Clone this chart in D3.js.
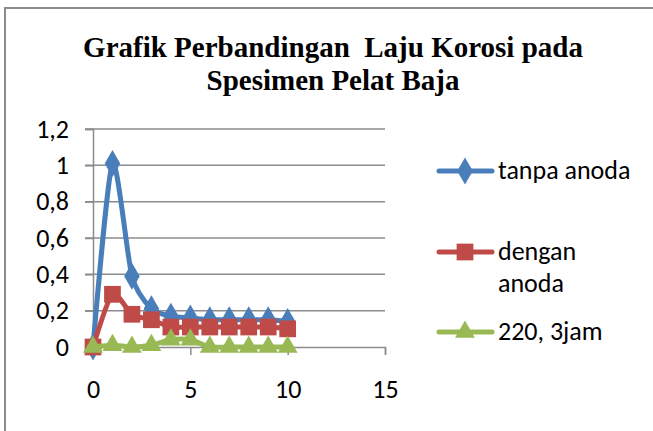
<!DOCTYPE html>
<html>
<head>
<meta charset="utf-8">
<script src="https://cdn.jsdelivr.net/npm/d3@7"></script>
<style>
  body { margin: 0; background: #fff; }
  svg { display: block; }
</style>
</head>
<body>
<svg id="chart" width="653" height="431"></svg>
<script>
// data
const xValues = [0, 1, 2, 3, 4, 5, 6, 7, 8, 9, 10];
const tanpaAnoda = [0, 1.01, 0.39, 0.21, 0.17, 0.16, 0.15, 0.15, 0.15, 0.15, 0.14];
const denganAnoda = [0, 0.29, 0.18, 0.15, 0.11, 0.11, 0.11, 0.11, 0.11, 0.11, 0.1];
const jam3 = [0, 0.01, 0, 0.01, 0.04, 0.04, 0, 0, 0, 0, 0];
const seriesNames = ["tanpa anoda", "dengan anoda", "220, 3jam"];
const xTicks = [0, 5, 10, 15];
const yTicks = [0, 0.2, 0.4, 0.6, 0.8, 1, 1.2];

const svg = d3.select("#chart");
const font = "Carlito, Calibri, 'Open Sans', sans-serif";
const fontSize = 26;

// outer frame (only top/left edges are in the crop)
svg.append("rect")
    .attr("x", 5).attr("y", 8)
    .attr("width", 700).attr("height", 500)
    .attr("fill", "none")
    .attr("stroke", "#8c8c8c")
    .attr("stroke-width", 2);

// title
const title = svg.append("text")
    .attr("text-anchor", "middle")
    .attr("font-family", "'Liberation Serif', 'Times New Roman', serif")
    .attr("font-weight", "bold")
    .attr("font-size", 29);
title.append("tspan").attr("x", 333).attr("y", 57).text("Grafik Perbandingan\u00a0 Laju Korosi pada");
title.append("tspan").attr("x", 333).attr("y", 90).text("Spesimen Pelat Baja");

const x = d3.scaleLinear().domain([0, 15]).range([93, 385]);
const y = d3.scaleLinear().domain([0, 1.2]).range([347, 129]);

// gridlines
svg.append("g")
  .selectAll("line")
  .data(yTicks.filter(d => d > 0))
  .join("line")
    .attr("x1", x(0) - 8).attr("x2", x(15))
    .attr("y1", d => y(d)).attr("y2", d => y(d))
    .attr("stroke", "#8c8c8c")
    .attr("stroke-width", 1.5);

// y axis
const yAxis = svg.append("g")
    .attr("transform", `translate(${x(0)},0)`)
    .call(d3.axisLeft(y).tickValues(yTicks).tickSize(8).tickPadding(16)
      .tickFormat(d => String(d).replace(".", ",")));

// x axis
const xAxis = svg.append("g")
    .attr("transform", `translate(0,${y(0)})`)
    .call(d3.axisBottom(x).tickValues(xTicks).tickSize(8).tickPadding(30));

[xAxis, yAxis].forEach(a => {
  a.select(".domain").attr("stroke", "#8c8c8c").attr("stroke-width", 1.5);
  a.selectAll(".tick line").attr("stroke", "#8c8c8c").attr("stroke-width", 1.5);
  a.selectAll(".tick text")
    .attr("font-family", font)
    .attr("font-size", fontSize)
    .attr("fill", "#000");
});
yAxis.selectAll(".tick text").attr("dy", "0.32em");
xAxis.selectAll(".tick text").attr("dy", "0.5em");

const series = [
  {name: seriesNames[0], values: tanpaAnoda, color: "#4a7ebb", marker: d3.symbolDiamond, size: 210},
  {name: seriesNames[1], values: denganAnoda, color: "#be4b48", marker: d3.symbolSquare, size: 280},
  {name: seriesNames[2], values: jam3, color: "#98b954", marker: d3.symbolTriangle, size: 170}
];

const line = d3.line()
    .x(d => x(d[0]))
    .y(d => y(d[1]))
    .curve(d3.curveCardinal.tension(0.3));

series.forEach(s => {
  const pts = xValues.map((v, i) => [v, s.values[i]]);
  const g = svg.append("g");
  g.append("path")
      .attr("d", line(pts))
      .attr("fill", "none")
      .attr("stroke", s.color)
      .attr("stroke-width", 5)
      .attr("stroke-linejoin", "round");
  g.selectAll("path.m")
    .data(pts)
    .join("path")
      .attr("class", "m")
      .attr("transform", d => `translate(${x(d[0])},${y(d[1])})`)
      .attr("d", d3.symbol().type(s.marker).size(s.size))
      .attr("fill", s.color);
});

// legend
const legendRows = [
  {s: series[0], y: 171, lines: ["tanpa anoda"]},
  {s: series[1], y: 252, lines: ["dengan", "anoda"]},
  {s: series[2], y: 332, lines: ["220, 3jam"]}
];
const legend = svg.append("g");
legendRows.forEach(r => {
  legend.append("line")
      .attr("x1", 439).attr("x2", 492)
      .attr("y1", r.y).attr("y2", r.y)
      .attr("stroke", r.s.color)
      .attr("stroke-width", 5)
      .attr("stroke-linecap", "round");
  legend.append("path")
      .attr("transform", `translate(465,${r.y})`)
      .attr("d", d3.symbol().type(r.s.marker).size(r.s.size))
      .attr("fill", r.s.color);
  r.lines.forEach((t, i) => {
    legend.append("text")
        .attr("x", 498)
        .attr("y", r.y + i * 32)
        .attr("dy", "0.3em")
        .attr("font-family", font)
        .attr("font-size", fontSize)
        .text(t);
  });
});
</script>
</body>
</html>
